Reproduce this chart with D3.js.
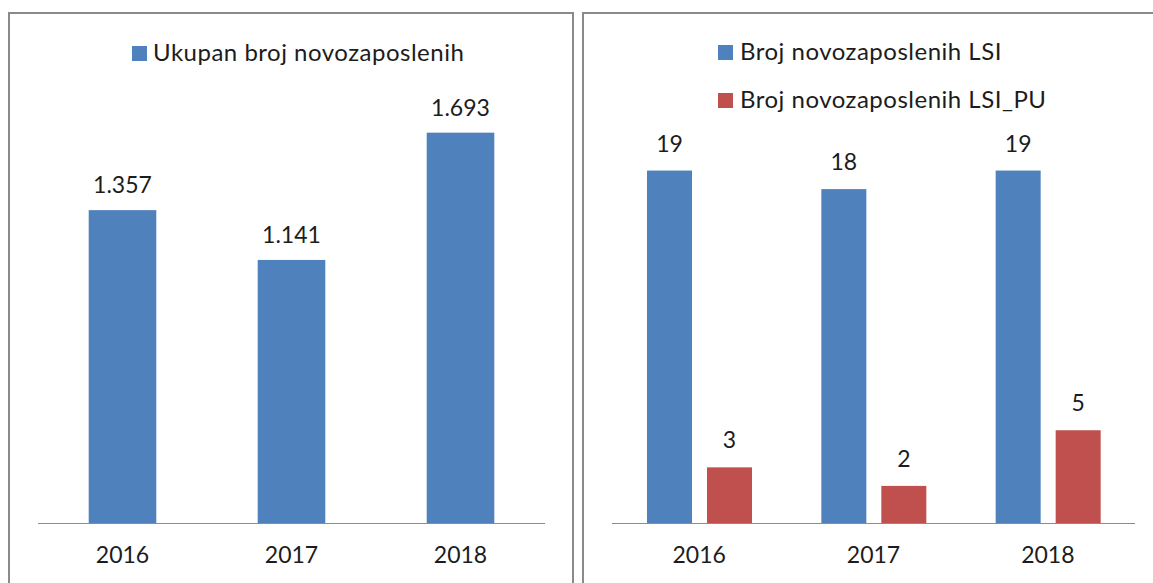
<!DOCTYPE html>
<html lang="sr">
<head>
<meta charset="utf-8">
<title>novozaposleni</title>
<script src="https://cdn.jsdelivr.net/npm/d3@7"></script>
<style>
  body { margin: 0; background: #fff; }
  text { font-family: Lato, "Open Sans", sans-serif; fill: #1c1c1c; }
</style>
</head>
<body>
<div id="drawing"></div>
<script>
// data
var years = ["2016", "2017", "2018"];
var ukupno = [1357, 1141, 1693];
var lsi = [19, 18, 19];
var lsiPu = [3, 2, 5];
var legendLeft = ["Ukupan broj novozaposlenih"];
var legendRight = ["Broj novozaposlenih LSI", "Broj novozaposlenih LSI_PU"];

var blue = "#4f81bd", red = "#c0504d";
var fmt = function(v) { return d3.format(",")(v).replace(/,/g, "."); };

var svg = d3.select("#drawing").append("svg")
    .attr("width", 1153)
    .attr("height", 583);

// panel frames (no bottom edge visible)
svg.append("rect").attr("x", 9).attr("y", 13).attr("width", 564).attr("height", 600)
    .style("fill", "none").style("stroke", "#8a8a8a").style("stroke-width", 2);
svg.append("rect").attr("x", 583).attr("y", 13).attr("width", 574).attr("height", 600)
    .style("fill", "none").style("stroke", "#8a8a8a").style("stroke-width", 2);

var base = 523;

// ---- left chart
var xL = d3.scaleBand().domain(years).range([38, 545]).paddingInner(0.6).paddingOuter(0.3);
var yL = d3.scaleLinear().domain([0, 1800]).range([base, 108]);

svg.selectAll("rect.uk").data(ukupno).enter().append("rect")
    .attr("class", "uk")
    .attr("x", function(d, i) { return xL(years[i]); })
    .attr("y", function(d) { return yL(d); })
    .attr("width", xL.bandwidth())
    .attr("height", function(d) { return base - yL(d); })
    .style("fill", blue);

svg.selectAll("text.ukv").data(ukupno).enter().append("text")
    .attr("class", "ukv")
    .attr("x", function(d, i) { return xL(years[i]) + xL.bandwidth() / 2; })
    .attr("y", function(d) { return yL(d) - 17; })
    .attr("text-anchor", "middle")
    .style("font-size", "23px")
    .text(fmt);

var axL = svg.append("g").attr("transform", "translate(0," + base + ")")
    .call(d3.axisBottom(xL).tickSize(0).tickPadding(24));
axL.select(".domain").style("stroke", "#8c8c8c").attr("d", "M38,0.5H545");
axL.selectAll("text").style("font-size", "23px").style("font-family", "Lato, sans-serif").style("fill", "#1c1c1c");

legendLeft.forEach(function(t, i) {
    svg.append("rect").attr("x", 132).attr("y", 46 + i * 48).attr("width", 15).attr("height", 15).style("fill", blue);
    svg.append("text").attr("x", 153).attr("y", 61 + i * 48)
        .style("font-size", "24px").style("letter-spacing", "0.5px").text(t);
});

// ---- right chart
var xR = d3.scaleBand().domain(years).range([612, 1135]);
var xSub = d3.scaleBand().domain([0, 1]).range([35, 140]).paddingInner(0.25);
var yR = d3.scaleLinear().domain([0, 20]).range([base, 152]);

[lsi, lsiPu].forEach(function(series, s) {
    var col = s === 0 ? blue : red;
    var g = svg.append("g");
    g.selectAll("rect").data(series).enter().append("rect")
        .attr("x", function(d, i) { return xR(years[i]) + xSub(s); })
        .attr("y", function(d) { return yR(d); })
        .attr("width", xSub.bandwidth())
        .attr("height", function(d) { return base - yR(d); })
        .style("fill", col);
    g.selectAll("text").data(series).enter().append("text")
        .attr("x", function(d, i) { return xR(years[i]) + xSub(s) + xSub.bandwidth() / 2; })
        .attr("y", function(d) { return yR(d) - 19; })
        .attr("text-anchor", "middle")
        .style("font-size", "23px")
        .text(function(d) { return d; });
});

var axR = svg.append("g").attr("transform", "translate(0," + base + ")")
    .call(d3.axisBottom(xR).tickSize(0).tickPadding(24));
axR.select(".domain").style("stroke", "#8c8c8c").attr("d", "M612,0.5H1135");
axR.selectAll("text").style("font-size", "23px").style("font-family", "Lato, sans-serif").style("fill", "#1c1c1c");

legendRight.forEach(function(t, i) {
    svg.append("rect").attr("x", 718).attr("y", 45 + i * 48).attr("width", 15).attr("height", 15)
        .style("fill", i === 0 ? blue : red);
    svg.append("text").attr("x", 740).attr("y", 60 + i * 48)
        .style("font-size", "24px").style("letter-spacing", "0.5px").text(t);
});
</script>
</body>
</html>
